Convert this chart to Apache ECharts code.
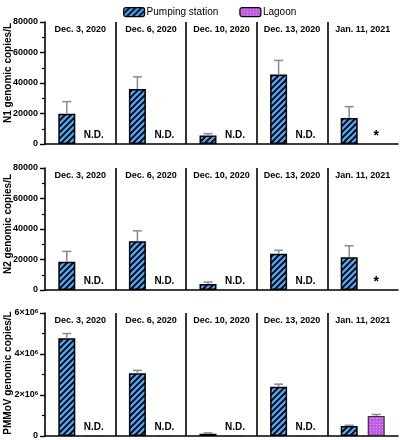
<!DOCTYPE html>
<html><head><meta charset="utf-8">
<script src="https://cdn.jsdelivr.net/npm/echarts@6/dist/echarts.min.js"></script>
<style>html,body{margin:0;padding:0;background:#fff}#c{width:401px;height:440px}</style>
</head><body><div id="c"></div>
<script>
const dates = ['Dec. 3, 2020', 'Dec. 6, 2020', 'Dec. 10, 2020', 'Dec. 13, 2020', 'Jan. 11, 2021'];
const seriesNames = ['Pumping station', 'Lagoon'];
const yTitles = ['N1 genomic copies/L', 'N2 genomic copies/L', 'PMMoV genomic copies/L'];

const n1Pump = [19800, 36000, 5500, 45500, 17000];
const n1PumpUpper = [27800, 44000, 6800, 54800, 24500];
const n1Lagoon = [0, 0, 0, 0, 0];
const n1LagoonUpper = [null, null, null, null, null];
const n1Notes = ['N.D.', 'N.D.', 'N.D.', 'N.D.', '*'];

const n2Pump = [18500, 32000, 4000, 23800, 21500];
const n2PumpUpper = [25300, 38800, 5200, 26000, 29000];
const n2Lagoon = [0, 0, 0, 0, 0];
const n2LagoonUpper = [null, null, null, null, null];
const n2Notes = ['N.D.', 'N.D.', 'N.D.', 'N.D.', '*'];

const pmPump = [4770000, 3060000, 110000, 2400000, 490000];
const pmPumpUpper = [5000000, 3200000, 150000, 2530000, 520000];
const pmLagoon = [0, 0, 0, 0, 980000];
const pmLagoonUpper = [null, null, null, null, 1050000];
const pmNotes = ['N.D.', 'N.D.', 'N.D.', 'N.D.', ''];

const yMax = [80000, 80000, 6000000];
const yInterval = [20000, 20000, 2000000];
const nameShift = [20, 10, 3];

function hatch() {
  const c = document.createElement('canvas');
  c.width = 6; c.height = 6;
  const g = c.getContext('2d');
  g.fillStyle = '#4ea6f5'; g.fillRect(0, 0, 6, 6);
  g.strokeStyle = '#000'; g.lineWidth = 1.8;
  g.beginPath();
  g.moveTo(-1, 7); g.lineTo(7, -1);
  g.moveTo(-4, 4); g.lineTo(4, -4);
  g.moveTo(2, 10); g.lineTo(10, 2);
  g.stroke();
  return c;
}
function dots() {
  const c = document.createElement('canvas');
  c.width = 3; c.height = 3;
  const g = c.getContext('2d');
  g.fillStyle = '#c25be6'; g.fillRect(0, 0, 3, 3);
  g.fillStyle = '#dc95f2'; g.fillRect(1, 1, 1, 1);
  return c;
}
const pumpFill = { image: hatch(), repeat: 'repeat' };
const lagoonFill = { image: dots(), repeat: 'repeat' };

const FONT = 'Liberation Sans, Arial, sans-serif';
const grids = [
  { left: 45, right: 3, top: 22, height: 122, outerBoundsMode: 'none', containLabel: false },
  { left: 45, right: 3, top: 168, height: 122, outerBoundsMode: 'none', containLabel: false },
  { left: 45, right: 3, top: 313, height: 123, outerBoundsMode: 'none', containLabel: false }
];
const panels = [
  { pump: n1Pump, pumpUp: n1PumpUpper, lag: n1Lagoon, lagUp: n1LagoonUpper, notes: n1Notes },
  { pump: n2Pump, pumpUp: n2PumpUpper, lag: n2Lagoon, lagUp: n2LagoonUpper, notes: n2Notes },
  { pump: pmPump, pumpUp: pmPumpUpper, lag: pmLagoon, lagUp: pmLagoonUpper, notes: pmNotes }
];

const BAR_W = 17, GAP = 10, OFF = (BAR_W + GAP) / 2;
const xAxes = [], yAxes = [], series = [];
panels.forEach((p, i) => {
  xAxes.push({
    type: 'category', gridIndex: i, data: dates, position: 'bottom',
    boundaryGap: true,
    axisLine: { show: true, lineStyle: { color: '#000', width: 1.6 } },
    axisTick: { show: false, interval: 0 }, axisLabel: { show: false, interval: 0 },
    splitLine: { show: true, interval: 0, showMinLine: false, showMaxLine: false, lineStyle: { color: '#000', width: 1.6 } }
  });
  xAxes.push({
    type: 'category', gridIndex: i, data: dates, position: 'top',
    axisLine: { show: false }, axisTick: { show: false }, splitLine: { show: false },
    axisLabel: { show: true, inside: true, margin: 3, fontFamily: FONT, fontWeight: 'bold', fontSize: 9, color: '#000', interval: 0 }
  });
  yAxes.push({
    type: 'value', gridIndex: i, min: 0, max: yMax[i], interval: yInterval[i],
    name: yTitles[i], nameLocation: 'middle', nameGap: 32, nameMoveOverlap: false,
    nameTextStyle: { fontFamily: FONT, fontWeight: 'bold', fontSize: 10, color: '#000', padding: [0, 0, 0, nameShift[i]] },
    axisLine: { show: true, lineStyle: { color: '#000', width: 1.6 } },
    axisTick: { show: true, length: 5, lineStyle: { color: '#000', width: 1.4 } },
    minorTick: { show: true, splitNumber: 2, length: 3, lineStyle: { color: '#000', width: 1.2 } },
    splitLine: { show: false },
    axisLabel: {
      margin: 7, fontFamily: FONT, fontWeight: 'bold', fontSize: 9, color: '#000',
      formatter: i === 2 ? (v => v === 0 ? '0' : '{a|' + (v / 1e6) + '×10}{s|6}') : (v => String(v)),
      rich: {
        a: { fontFamily: FONT, fontWeight: 'bold', fontSize: 9, color: '#000' },
        s: { fontFamily: FONT, fontWeight: 'bold', fontSize: 6, color: '#000', verticalAlign: 'top', padding: [0, 0, 4, 0] }
      }
    }
  });
  series.push({
    name: seriesNames[0], type: 'bar', xAxisIndex: i * 2, yAxisIndex: i,
    data: p.pump, barWidth: BAR_W, barGap: (GAP / BAR_W * 100) + '%',
    itemStyle: { color: pumpFill, borderColor: '#000', borderWidth: 1.5 }
  });
  series.push({
    name: seriesNames[1], type: 'bar', xAxisIndex: i * 2, yAxisIndex: i,
    data: p.lag, barWidth: BAR_W, barGap: (GAP / BAR_W * 100) + '%',
    itemStyle: { color: lagoonFill, borderColor: p.lag.some(v => v > 0) ? '#333' : 'rgba(0,0,0,0)', borderWidth: 1.2 },
    label: {
      show: true, position: 'top', distance: 3, color: '#000',
      fontFamily: FONT, fontWeight: 'bold', fontSize: 10,
      formatter: q => { const n = p.notes[q.dataIndex]; return n === '*' ? '{star|*}' : n; },
      rich: { star: { fontFamily: FONT, fontWeight: 'bold', fontSize: 14, color: '#000', padding: [0, 0, -3, 0] } }
    }
  });
  [[p.pump, p.pumpUp, -OFF], [p.lag, p.lagUp, OFF]].forEach(([mean, up, off]) => {
    const d = [];
    mean.forEach((m, k) => { if (up[k] != null) d.push([k, m, up[k]]); });
    series.push({
      type: 'custom', xAxisIndex: i * 2, yAxisIndex: i, z: 5,
      encode: { x: 0, y: [1, 2] }, data: d,
      renderItem: (params, api) => {
        const a = api.coord([api.value(0), api.value(1)]);
        const b = api.coord([api.value(0), api.value(2)]);
        const x = a[0] + off;
        return {
          type: 'group', children: [
            { type: 'line', shape: { x1: x, y1: a[1], x2: x, y2: b[1] }, style: { stroke: '#8a8a8a', lineWidth: 1.5 } },
            { type: 'line', shape: { x1: x - 4.5, y1: b[1], x2: x + 4.5, y2: b[1] }, style: { stroke: '#8a8a8a', lineWidth: 1.5 } }
          ]
        };
      }
    });
  });
});

const chart = echarts.init(document.getElementById('c'), null, { renderer: 'canvas' });
chart.setOption({
  animation: false,
  backgroundColor: '#fff',
  legend: {
    data: seriesNames, left: 118, top: 2, itemWidth: 21, itemHeight: 9, itemGap: 21,
    textStyle: { fontFamily: FONT, fontSize: 10, color: '#000', padding: [0, 0, 0, -3] },
    itemStyle: { borderColor: '#000', borderWidth: 1.2 }
  },
  grid: grids,
  xAxis: xAxes,
  yAxis: yAxes,
  series: series
});
</script></body></html>
